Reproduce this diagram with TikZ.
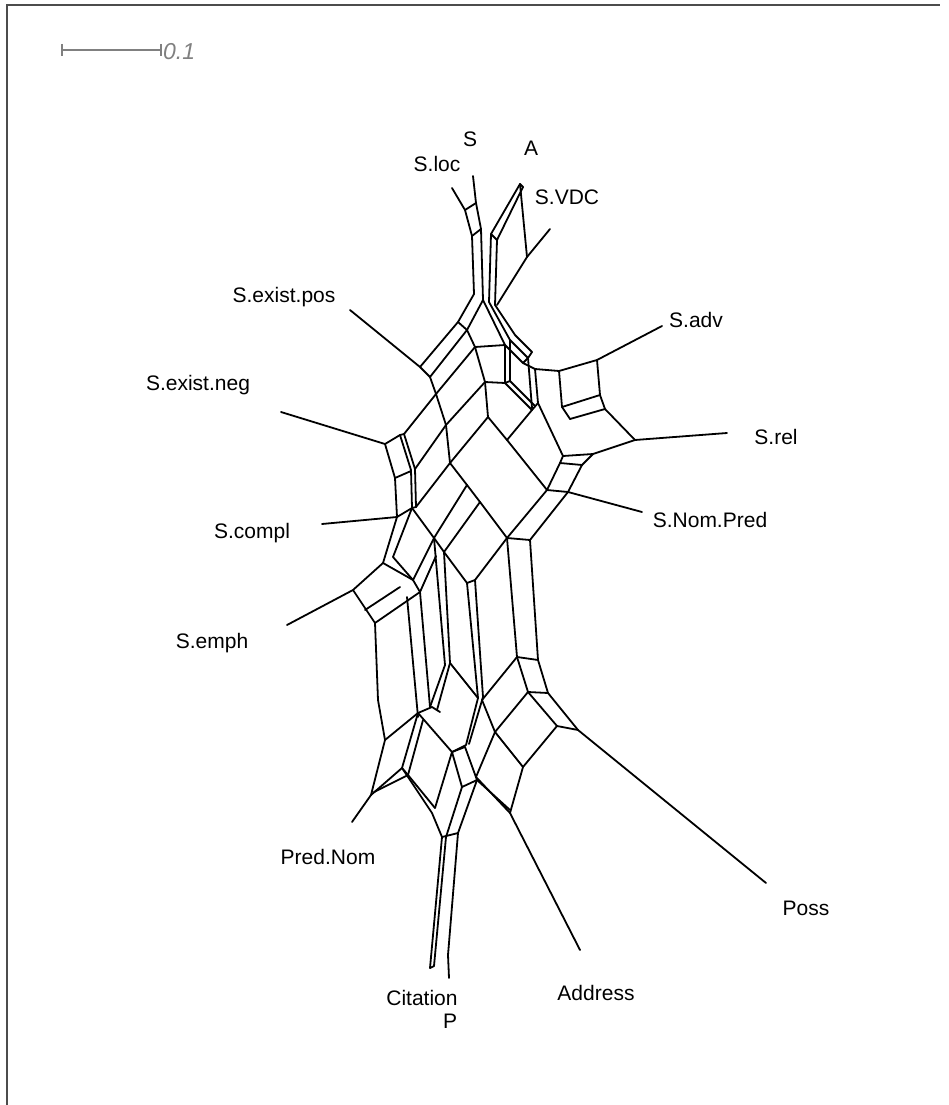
\documentclass[tikz,border=0pt]{standalone}
\usepackage{fontspec}
\setmainfont{Liberation Sans}
\begin{document}
\begin{tikzpicture}[x=1pt,y=-1pt,
  net/.style={line width=1.8pt,line join=round,line cap=round},
  lab/.style={font=\fontsize{21}{25}\selectfont,inner sep=0pt},
  bar/.style={draw=black!50,line width=1.6pt}]
\useasboundingbox (0,0) rectangle (948,1105);
% frame
\draw[black!70,line width=1.2pt] (7,1105) -- (7,5) -- (940,5);
% scale bar
\draw[bar] (62,50) -- (161,50);
\draw[bar] (62,44) -- (62,56);
\draw[bar] (161,44) -- (161,56);
\node[lab,anchor=west,text=black!50,font=\fontsize{23}{26}\selectfont\itshape] (scale) at (163,52) {0.1};
% labels
\node[lab] (lS) at (470,139) {S};
\node[lab] (lA) at (531,148) {A};
\node[lab] (lSloc) at (437,164) {S.loc};
\node[lab] (lSVDC) at (567,197) {S.VDC};
\node[lab] (lSexpos) at (284,297) {S.exist.pos};
\node[lab] (lSadv) at (696,320) {S.adv};
\node[lab] (lSexneg) at (198,385) {S.exist.neg};
\node[lab] (lSrel) at (776,437) {S.rel};
\node[lab] (lSNP) at (710,520) {S.Nom.Pred};
\node[lab] (lScompl) at (252,533) {S.compl};
\node[lab] (lSemph) at (212,643) {S.emph};
\node[lab] (lPN) at (328,857) {Pred.Nom};
\node[lab] (lPoss) at (806,908) {Poss};
\node[lab] (lCit) at (422,998) {Citation};
\node[lab] (lAddr) at (596,993) {Address};
\node[lab] (lP) at (450,1021) {P};
% leaves
\coordinate (Sloc) at (452,188);
\coordinate (S) at (473,176);
\coordinate (A) at (520,184);
\coordinate (SVDC) at (550,229);
\coordinate (Sadv) at (662,326);
\coordinate (Srel) at (727,433);
\coordinate (SNP) at (642,512);
\coordinate (Poss) at (766,883);
\coordinate (Addr) at (580,950);
\coordinate (P) at (449,978);
\coordinate (Cit) at (430,968);
\coordinate (PN) at (352,822);
\coordinate (Semph) at (287,625);
\coordinate (Scompl) at (322,524);
\coordinate (Sexneg) at (281,412);
\coordinate (Sexpos) at (350,310);
\begin{scope}[net]
% top bundle
\draw (Sloc) -- (465,210) -- (472,236) -- (474,294) -- (458,322) -- (420,367) -- (Sexpos);
\draw (S) -- (476,203) -- (481,229) -- (483,300) -- (467,330) -- (430,377);
\draw (465,210) -- (476,203);
\draw (472,236) -- (481,229);
\draw (458,322) -- (467,330);
\draw (420,367) -- (430,377);
\draw (A) -- (491,234) -- (489,302);
\draw (523,187) -- (497,240) -- (495,305);
\draw (A) -- (523,187);
\draw (491,234) -- (497,240);
\draw (A) -- (527,257);
\draw (SVDC) -- (527,257) -- (497,305);
\draw (483,300) -- (505,345) -- (523,363) -- (535,369);
\draw (489,302) -- (510,340) -- (528,358);
\draw (495,305) -- (515,335) -- (532,352);
\draw (523,363) -- (528,358) -- (532,352);
% strip below S.exist.pos
\draw (430,377) -- (436,394) -- (446,425) -- (450,463);
\draw (467,330) -- (475,347) -- (485,382) -- (488,417);
\draw (436,394) -- (475,347);
\draw (446,425) -- (485,382);
\draw (450,463) -- (488,417);
\draw (475,347) -- (505,345);
\draw (485,382) -- (505,383);
\draw (505,345) -- (505,383);
\draw (510,340) -- (510,381);
\draw (505,383) -- (510,381);
% right upper
\draw (Sadv) -- (597,360) -- (559,371) -- (535,369);
\draw (597,360) -- (600,395) -- (605,409) -- (635,440) -- (Srel);
\draw (559,371) -- (562,407) -- (570,419);
\draw (562,407) -- (600,395);
\draw (570,419) -- (605,409);
\draw (635,440) -- (593,454) -- (563,456);
\draw (593,454) -- (582,465) -- (560,463) -- (563,456);
\draw (560,463) -- (547,490) -- (568,492) -- (582,465);
\draw (568,492) -- (SNP);
\draw (535,369) -- (538,403) -- (563,456);
\draw (528,358) -- (532,408);
\draw (505,383) -- (532,410) -- (538,403);
\draw (510,381) -- (535,406);
\draw (532,410) -- (507,440);
\draw (488,417) -- (507,440) -- (547,490);
% S.exist.neg / S.compl box
\draw (Sexneg) -- (385,444) -- (400,435);
\draw (385,444) -- (395,478) -- (397,517);
\draw (400,435) -- (411,470) -- (412,508);
\draw (404,434) -- (415,469) -- (416,507);
\draw (400,435) -- (404,434);
\draw (395,478) -- (411,471);
\draw (397,517) -- (412,508);
\draw (412,508) -- (416,507);
\draw (Scompl) -- (397,517);
\draw (404,434) -- (436,394);
\draw (415,469) -- (446,425);
\draw (416,507) -- (450,463);
% central parallelogram
\draw (412,508) -- (434,538) -- (444,552) -- (467,583);
\draw (450,463) -- (467,485) -- (480,502) -- (507,538);
\draw (434,538) -- (467,485);
\draw (444,552) -- (480,502);
\draw (467,583) -- (475,580) -- (507,538);
\draw (507,538) -- (530,540);
\draw (507,538) -- (517,657);
\draw (530,540) -- (538,660);
\draw (507,538) -- (547,490);
\draw (530,540) -- (568,492);
% S.emph box
\draw (397,517) -- (383,563) -- (353,590) -- (Semph);
\draw (353,590) -- (375,623) -- (378,700) -- (385,740);
\draw (383,563) -- (413,580) -- (420,592);
\draw (365,610) -- (400,587);
\draw (375,623) -- (420,592);
\draw (407,597) -- (418,717);
\draw (420,592) -- (430,707);
\draw (412,508) -- (393,557) -- (413,580);
\draw (413,580) -- (434,538);
\draw (420,592) -- (436,556);
\draw (434,538) -- (445,665);
\draw (444,552) -- (450,663);
\draw (467,583) -- (478,698);
\draw (475,580) -- (483,697);
\draw (445,665) -- (430,707);
\draw (450,663) -- (437,710);
\draw (450,663) -- (478,698);
% lower
\draw (517,657) -- (538,660);
\draw (517,657) -- (528,692) -- (548,693) -- (538,660);
\draw (517,657) -- (482,700);
\draw (528,692) -- (495,732);
\draw (548,693) -- (578,730) -- (Poss);
\draw (578,730) -- (557,726);
\draw (528,692) -- (557,726) -- (523,767) -- (510,813) -- (Addr);
\draw (482,700) -- (495,732) -- (523,767);
\draw (476,777) -- (510,813);
\draw (495,732) -- (476,777);
\draw (478,698) -- (466,745) -- (452,752);
\draw (483,697) -- (469,744);
\draw (385,740) -- (418,713) -- (432,707) -- (440,712);
\draw (385,740) -- (371,795) -- (PN);
\draw (371,795) -- (402,768) -- (418,713);
\draw (374,792) -- (408,775) -- (423,720);
\draw (402,768) -- (408,775);
\draw (402,768) -- (432,813) -- (442,837) -- (458,833);
\draw (408,775) -- (435,808);
\draw (418,713) -- (452,752) -- (465,747);
\draw (452,752) -- (462,787) -- (477,780) -- (465,747);
\draw (462,787) -- (446,837);
\draw (477,780) -- (458,833);
\draw (435,808) -- (452,752);
\draw (442,837) -- (Cit);
\draw (446,837) -- (434,966);
\draw (458,833) -- (448,955) -- (P);
\draw (Cit) -- (434,966);
\draw (477,780) -- (510,810);
\end{scope}
\end{tikzpicture}
\end{document}
